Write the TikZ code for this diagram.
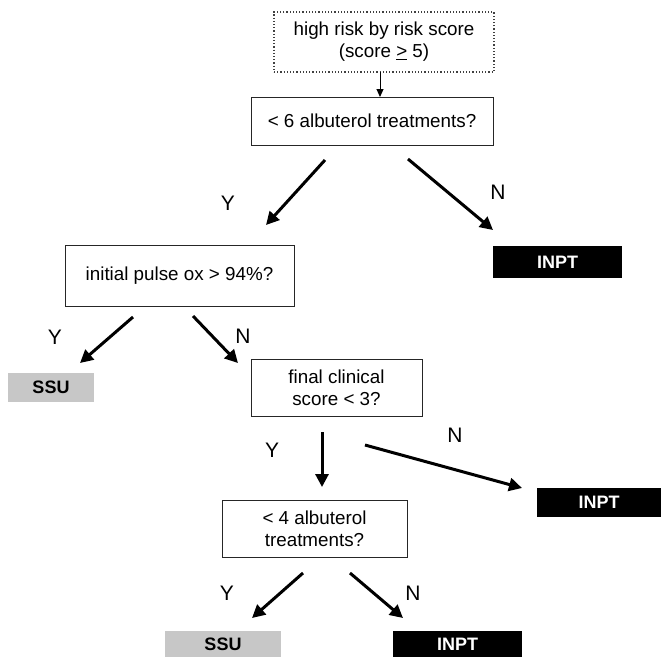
\documentclass[tikz,border=0pt]{standalone}
\usepackage{fontspec}
\setmainfont{Liberation Sans}
\usetikzlibrary{arrows.meta}
\tikzset{
  qbox/.style={draw=black!85, line width=1pt, inner sep=0pt, align=center, font=\fontsize{18.8}{22}\selectfont},
  startbox/.style={draw=black!75, dotted, line width=1.2pt, inner sep=0pt, align=center, font=\fontsize{18.8}{22}\selectfont},
  inpt/.style={fill=black, text=white, inner sep=0pt, font=\fontsize{18}{20}\selectfont\bfseries},
  ssu/.style={fill=black!22, text=black, inner sep=0pt, font=\fontsize{18}{20}\selectfont\bfseries},
  bigarrow/.style={line width=3pt, -{Triangle[length=13pt,width=13pt]}},
  thinarrow/.style={line width=1pt, -{Triangle[length=8pt,width=7pt]}},
  yn/.style={font=\fontsize{21}{24}\selectfont, inner sep=0pt}
}
\begin{document}
\begin{tikzpicture}[x=1pt,y=-1pt]
\useasboundingbox (0,0) rectangle (661,657);
% boxes
\node[startbox, minimum width=220pt, minimum height=60pt] (top) at (384,42) {high risk by risk score\\(score \underline{>} 5)};
\node[qbox, minimum width=242pt, minimum height=48pt] (q1) at (372,121) {< 6 albuterol treatments?};
\node[qbox, minimum width=229pt, minimum height=61pt] (q2) at (179.5,275.5) {initial pulse ox > 94\%?};
\node[qbox, minimum width=171pt, minimum height=57pt] (q3) at (336.5,387.5) {final clinical\\score < 3?};
\node[qbox, minimum width=185pt, minimum height=57pt] (q4) at (314.5,528.5) {< 4 albuterol\\treatments?};
\node[inpt, minimum width=129pt, minimum height=32pt] (i1) at (557.5,262) {INPT};
\node[ssu, minimum width=86pt, minimum height=29pt] (s1) at (51,387.5) {SSU};
\node[inpt, minimum width=124pt, minimum height=29pt] (i2) at (599,502.5) {INPT};
\node[ssu, minimum width=116pt, minimum height=26pt] (s2) at (223,644) {SSU};
\node[inpt, minimum width=129pt, minimum height=26pt] (i3) at (457.5,644) {INPT};
% connector ends
\coordinate (a0s) at (380,72);  \coordinate (a0e) at (380,97);
\coordinate (a1s) at (325,160); \coordinate (a1e) at (266,225);
\coordinate (a2s) at (408,159); \coordinate (a2e) at (493,230);
\coordinate (a3s) at (133,317); \coordinate (a3e) at (80,363);
\coordinate (a4s) at (193,316); \coordinate (a4e) at (238,363);
\coordinate (a5s) at (322,432); \coordinate (a5e) at (322,487);
\coordinate (a6s) at (365,445); \coordinate (a6e) at (522,488);
\coordinate (a7s) at (303,573); \coordinate (a7e) at (252,618);
\coordinate (a8s) at (350,573); \coordinate (a8e) at (403,618);
% connectors
\draw[thinarrow] (a0s) -- (a0e);
\draw[bigarrow] (a1s) -- (a1e);
\draw[bigarrow] (a2s) -- (a2e);
\draw[bigarrow] (a3s) -- (a3e);
\draw[bigarrow] (a4s) -- (a4e);
\draw[bigarrow] (a5s) -- (a5e);
\draw[bigarrow] (a6s) -- (a6e);
\draw[bigarrow] (a7s) -- (a7e);
\draw[bigarrow] (a8s) -- (a8e);
% labels
\node[yn] (y1) at (228,203) {Y};
\node[yn] (n1) at (498,192) {N};
\node[yn] (y2) at (55,337) {Y};
\node[yn] (n2) at (243,336) {N};
\node[yn] (y3) at (272,450) {Y};
\node[yn] (n3) at (455,435) {N};
\node[yn] (y4) at (227,593) {Y};
\node[yn] (n4) at (413,593) {N};
\end{tikzpicture}
\end{document}
